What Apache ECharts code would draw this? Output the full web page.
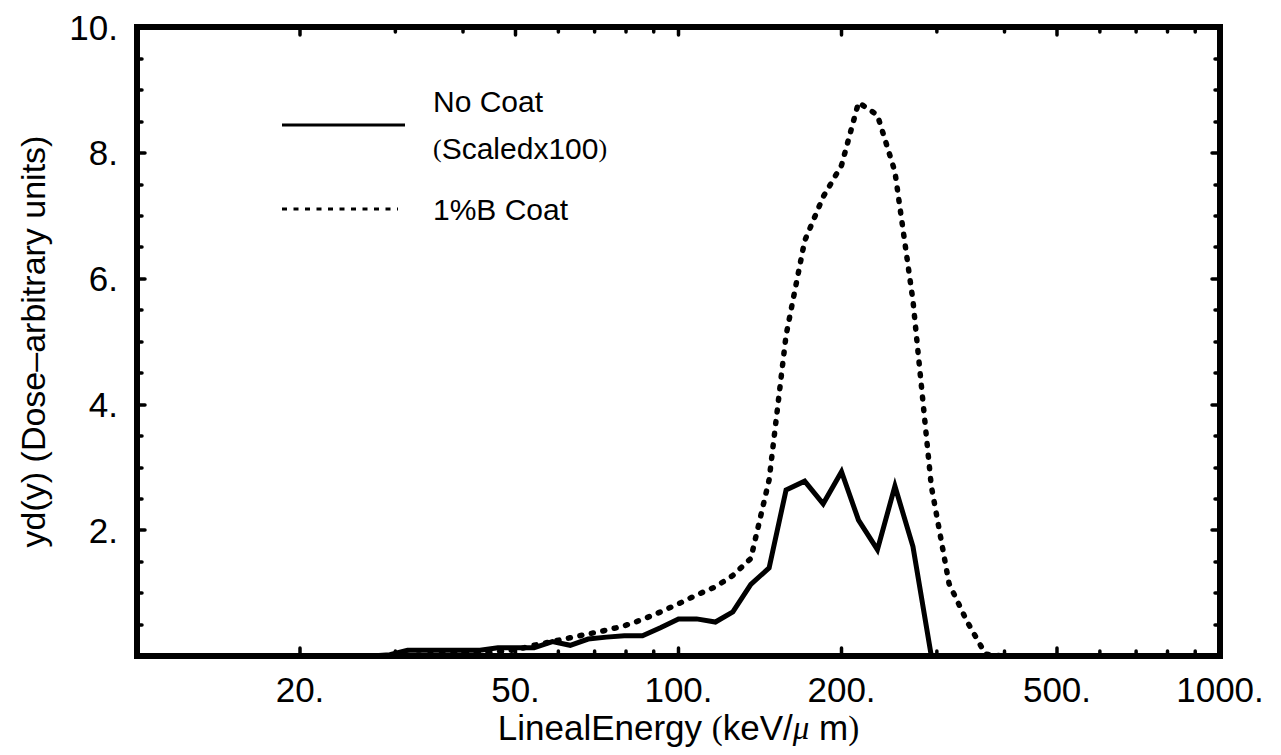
<!DOCTYPE html>
<html>
<head>
<meta charset="utf-8">
<title>yd(y) lineal energy</title>
<script src="https://cdn.jsdelivr.net/npm/echarts@6.0.0/dist/echarts.min.js"></script>
<style>
  html, body { margin: 0; padding: 0; background: #fff; }
  #main { width: 1281px; height: 755px; }
</style>
</head>
<body>
<div id="main"></div>
<script>
// lineal energy (keV/um), bins
var energy = [10, 27.1, 29.3, 31.6, 34.1, 36.8, 39.8, 43.0, 46.4, 50.1, 54.1, 58.5, 63.1, 68.1,
  73.6, 79.4, 85.8, 92.6, 100, 108, 117, 126, 136, 147, 158, 171, 185, 200, 215, 233, 251,
  271, 293, 316, 341, 369, 398, 1000];
// No Coat (scaled x100)
var noCoat = [0, 0, 0.02, 0.09, 0.09, 0.09, 0.09, 0.09, 0.13, 0.13, 0.13, 0.23, 0.17, 0.27,
  0.30, 0.32, 0.32, 0.45, 0.59, 0.59, 0.54, 0.70, 1.14, 1.40, 2.64, 2.78, 2.42, 2.93, 2.16, 1.69, 2.70,
  1.74, 0, 0, 0, 0, 0, 0];
// 1%B Coat
var oneBCoat = [0, 0, 0, 0.01, 0.02, 0.03, 0.04, 0.05, 0.07, 0.10, 0.17, 0.23, 0.29, 0.35,
  0.41, 0.48, 0.58, 0.70, 0.83, 0.97, 1.10, 1.28, 1.55, 2.8, 5.1, 6.6, 7.3, 7.8, 8.8, 8.6, 7.7,
  5.65, 2.7, 1.15, 0.55, 0.03, 0, 0];

// x axis ticks / labels
var xMajorTicks = [20, 50, 100, 200, 500];
var xMinorTicks = [30, 40, 60, 70, 80, 90, 300, 400, 600, 700, 800, 900];
var xLabels = [20, 50, 100, 200, 500, 1000];

var FONT = '"Liberation Sans", Arial, sans-serif';
var SERIF = '"Liberation Serif", "Times New Roman", serif';

function pairs(ys) {
  return energy.map(function (x, i) { return [x, ys[i]]; });
}

// short inward ticks on bottom and top edge of the frame
function tickRenderer(len) {
  return function (params, api) {
    var b = api.coord([api.value(0), 0]);
    var t = api.coord([api.value(0), 10]);
    var st = { stroke: '#000', lineWidth: 3.5, lineCap: 'round' };
    return {
      type: 'group',
      children: [
        { type: 'line', shape: { x1: b[0], y1: b[1], x2: b[0], y2: b[1] - len }, style: st },
        { type: 'line', shape: { x1: t[0], y1: t[1], x2: t[0], y2: t[1] + len }, style: st }
      ]
    };
  };
}

var myChart = echarts.init(document.getElementById('main'), null, { renderer: 'svg' });

var yTick = {
  show: true, inside: true, length: 8,
  lineStyle: { color: '#000', width: 3.5, cap: 'round' }
};
var yMinor = {
  show: true, splitNumber: 4, length: 5,
  lineStyle: { color: '#000', width: 3.5, cap: 'round' }
};

var option = {
  backgroundColor: '#fff',
  animation: false,
  grid: {
    left: 137, right: 61, top: 27, bottom: 99,
    show: true,
    borderColor: '#000',
    borderWidth: 6,
    backgroundColor: 'transparent'
  },
  xAxis: [{
    type: 'log',
    logBase: 10,
    min: 10,
    max: 1000,
    name: '{a|LinealEnergy }{p|(}{a|keV/}{m|μ}{a| m}{p|)}',
    nameLocation: 'middle',
    nameGap: 54,
    nameTextStyle: {
      rich: {
        a: { fontFamily: FONT, fontSize: 35, color: '#000' },
        p: { fontFamily: SERIF, fontSize: 33, color: '#000' },
        m: { fontFamily: SERIF, fontStyle: 'italic', fontSize: 33, color: '#000' }
      }
    },
    axisLine: { show: false },
    axisTick: { show: false },
    axisLabel: { show: false },
    splitLine: { show: false },
    minorTick: { show: false }
  }],
  yAxis: [{
    type: 'value',
    min: 0,
    max: 10,
    interval: 2,
    name: 'yd(y) (Dose–arbitrary units)',
    nameLocation: 'middle',
    nameRotate: 90,
    nameGap: 87,
    nameTextStyle: { fontFamily: FONT, fontSize: 34, color: '#000' },
    axisLine: { show: false },
    axisTick: yTick,
    minorTick: yMinor,
    splitLine: { show: false },
    axisLabel: {
      margin: 19,
      fontFamily: FONT,
      fontSize: 35,
      color: '#000',
      formatter: function (v) { return v === 0 ? '' : v + '.'; }
    }
  }, {
    type: 'value',
    position: 'right',
    min: 0,
    max: 10,
    interval: 2,
    axisLine: { show: false },
    axisTick: yTick,
    minorTick: yMinor,
    splitLine: { show: false },
    axisLabel: { show: false }
  }],
  graphic: [
    // hand drawn legend like the original
    { type: 'line', shape: { x1: 282, y1: 125, x2: 405, y2: 125 }, style: { stroke: '#000', lineWidth: 3 } },
    { type: 'text', x: 433, y: 101, style: { text: 'No Coat', font: '30px ' + FONT, fill: '#000', verticalAlign: 'middle' } },
    {
      type: 'text', x: 433, y: 148,
      style: {
        text: '{p|(}{a|Scaledx100}{p|)}',
        verticalAlign: 'middle',
        rich: {
          a: { fontFamily: FONT, fontSize: 30, fill: '#000' },
          p: { fontFamily: SERIF, fontSize: 26, fill: '#000' }
        }
      }
    },
    { type: 'line', shape: { x1: 282, y1: 209, x2: 398, y2: 209 }, style: { stroke: '#000', lineWidth: 3, lineDash: [5, 6.5] } },
    { type: 'text', x: 433, y: 209, style: { text: '1%B Coat', font: '30px ' + FONT, fill: '#000', verticalAlign: 'middle' } }
  ],
  series: [
    {
      name: 'No Coat',
      type: 'line',
      data: pairs(noCoat),
      showSymbol: false,
      symbol: 'none',
      clip: true,
      lineStyle: { color: '#000', width: 5, join: 'miter' },
      z: 3
    },
    {
      name: '1%B Coat',
      type: 'line',
      data: pairs(oneBCoat),
      showSymbol: false,
      symbol: 'none',
      clip: true,
      lineStyle: { color: '#000', width: 5.5, type: [2, 9.7], cap: 'round' },
      z: 3
    },
    {
      type: 'custom',
      data: xMajorTicks.map(function (v) { return [v, 0]; }),
      renderItem: tickRenderer(8),
      clip: false,
      silent: true,
      z: 4
    },
    {
      type: 'custom',
      data: xMinorTicks.map(function (v) { return [v, 0]; }),
      renderItem: tickRenderer(5),
      clip: false,
      silent: true,
      z: 4
    },
    {
      // x tick labels "20." "50." ...
      type: 'custom',
      data: xLabels.map(function (v) { return [v, 0]; }),
      renderItem: function (params, api) {
        var p = api.coord([api.value(0), 0]);
        return {
          type: 'text',
          x: p[0],
          y: p[1] + 33,
          style: {
            text: api.value(0) + '.',
            fontFamily: FONT,
            fontSize: 35,
            fill: '#000',
            align: 'center',
            verticalAlign: 'middle'
          }
        };
      },
      clip: false,
      silent: true,
      z: 4
    }
  ]
};

myChart.setOption(option);
window.onresize = function () { myChart.resize(); };
</script>
</body>
</html>
